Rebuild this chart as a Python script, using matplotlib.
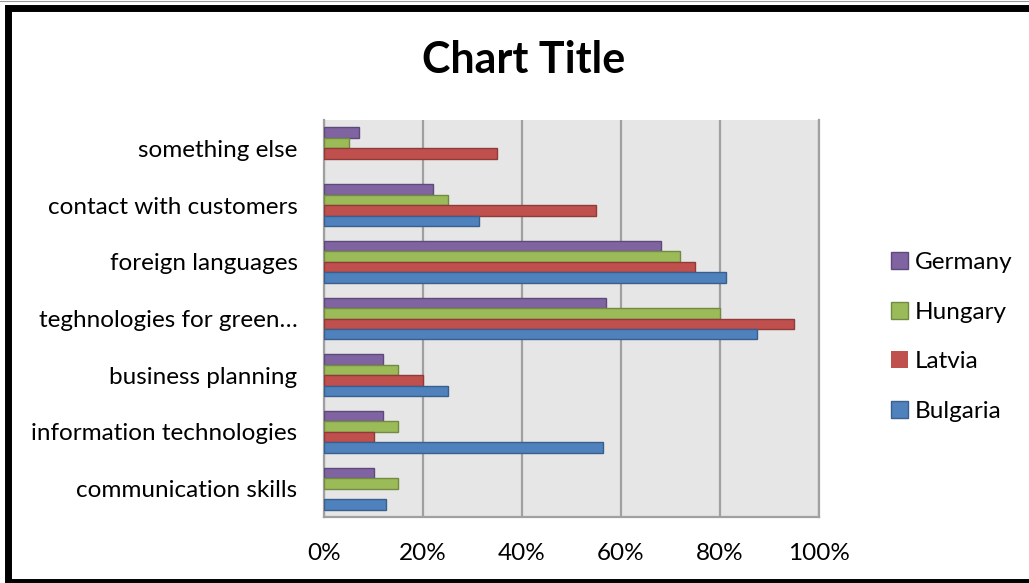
import numpy as np
import matplotlib
matplotlib.use('Agg')
import matplotlib.pyplot as plt
from matplotlib.lines import Line2D
from matplotlib.ticker import PercentFormatter

plt.rcParams['font.family'] = ['Lato', 'DejaVu Sans']

# skills, listed bottom to top
skills = ['communication skills', 'information technologies', 'business planning',
          'teghnologies for green…', 'foreign languages', 'contact with customers',
          'something else']

# share of answers per country (%)
germany = [10, 12, 12, 57, 68, 22, 7]
hungary = [15, 15, 15, 80, 72, 25, 5]
latvia = [0, 10, 20, 95, 75, 55, 35]
bulgaria = [12.5, 56.3, 25, 87.4, 81.3, 31.3, 0]

x_ticks = [0, 20, 40, 60, 80, 100]

series = [('Germany', germany, '#8064A2', '#5E4A7A'),
          ('Hungary', hungary, '#9BBB59', '#728A41'),
          ('Latvia', latvia, '#C0504D', '#8E3B39'),
          ('Bulgaria', bulgaria, '#4F81BD', '#3A5F8C')]

fig = plt.figure(figsize=(10.29, 5.83), dpi=100)
fig.patch.set_facecolor('white')
ax = fig.add_axes([324 / 1029, 1 - 517 / 583, 495 / 1029, 397 / 583])
ax.set_facecolor('#E6E6E6')

y = np.arange(len(skills))
h = 0.185
offsets = [1.5 * h, 0.5 * h, -0.5 * h, -1.5 * h]
handles = []
for (name, vals, col, edge), off in zip(series, offsets):
    # no outline on empty bars
    lw = [1.0 if v > 0 else 0 for v in vals]
    b = ax.barh(y + off, vals, height=h, color=col, edgecolor=edge,
                linewidth=lw, label=name, zorder=3)
    handles.append(b)

ax.set_xlim(0, 100)
ax.set_ylim(-0.5, len(skills) - 0.5)
ax.set_xticks(x_ticks)
ax.xaxis.set_major_formatter(PercentFormatter(decimals=0))
ax.set_yticks(y)
ax.set_yticklabels(skills)
ax.tick_params(axis='both', length=0, labelsize=17.5, colors='black')
ax.tick_params(axis='y', pad=19)
ax.tick_params(axis='x', pad=19)
ax.grid(axis='x', color='#A0A0A0', linewidth=1.6, zorder=1)
ax.spines['top'].set_visible(False)
for s in ['left', 'bottom', 'right']:
    ax.spines[s].set_color('#A0A0A0')
    ax.spines[s].set_linewidth(1.6)

fig.text(523.5 / 1029, 1 - 60 / 583, 'Chart Title', ha='center', va='center',
         fontsize=31, fontweight='bold')

fig.legend(handles, [s[0] for s in series], loc='center left',
           bbox_to_anchor=(881 / 1029, 1 - 337 / 583), frameon=False,
           fontsize=17.5, handlelength=0.7, handleheight=0.7,
           handletextpad=0.3, labelspacing=1.17, borderaxespad=0)

# black frame around the chart, open on the right
fig.add_artist(Line2D([1040, 7.5, 7.5, 1040], [575, 575, 1.5, 1.5],
                      transform=None, color='black', linewidth=5.0,
                      solid_joinstyle='miter'))
fig.add_artist(Line2D([0, 1029], [582.5, 582.5], transform=None,
                      color='#9A9A9A', linewidth=0.8))

fig.savefig('out.png', dpi=100)
